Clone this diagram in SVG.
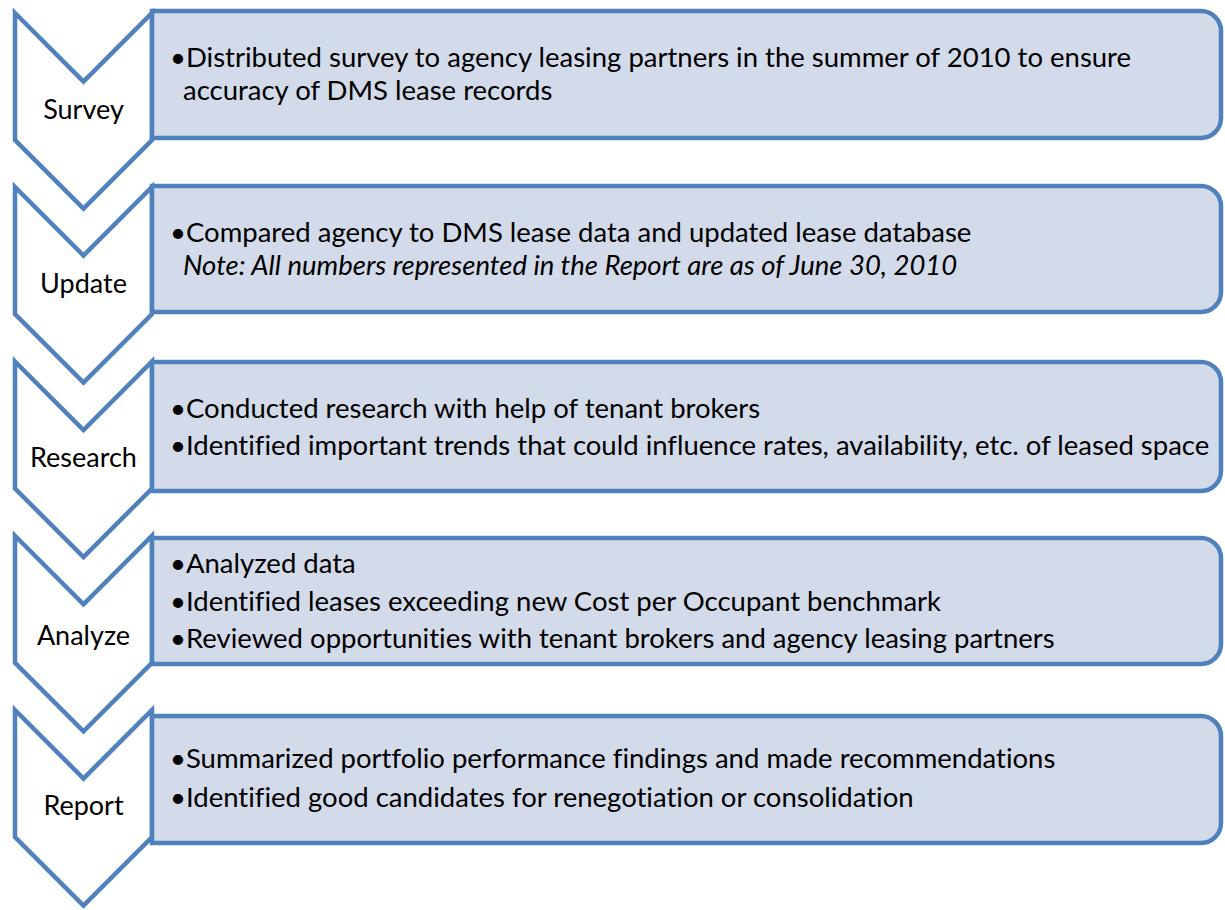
<svg xmlns="http://www.w3.org/2000/svg" width="1225" height="910" viewBox="0 0 1225 910">
<style>
.chev{fill:#FFFFFF;stroke:#4F81BD;stroke-width:4.5;stroke-linejoin:miter}
.box{fill:#D3DAE9;stroke:#4F81BD;stroke-width:4.5}
.lbl{font-family:Lato,"Liberation Sans",sans-serif;font-size:27px;fill:#000;text-anchor:middle;font-variant-ligatures:none}
.txt{font-family:Lato,"Liberation Sans",sans-serif;font-size:27.5px;fill:#000;font-variant-ligatures:none}
.it{font-style:italic}
</style>
<rect width="1225" height="910" fill="#FFFFFF"/>
<g id="survey">
<polygon class="chev" points="15,13 83.5,81.5 152,13 152,140 83.5,208.5 15,140"/>
<path class="box" d="M152,11 H1201 A20,20 0 0 1 1221,31 V118 A20,20 0 0 1 1201,138 H152 Z"/>
<text class="lbl" x="83.5" y="119">Survey</text>
<text class="txt" x="170" y="67">•Distributed survey to agency leasing partners in the summer of 2010 to ensure</text>
<text class="txt" x="183" y="100">accuracy of DMS lease records</text>
</g>
<g id="update">
<polygon class="chev" points="15,187 83.5,255.5 152,187 152,314 83.5,382.5 15,314"/>
<path class="box" d="M152,186 H1201 A20,20 0 0 1 1221,206 V292 A20,20 0 0 1 1201,312 H152 Z"/>
<text class="lbl" x="83.5" y="293">Update</text>
<text class="txt" x="170" y="242">•Compared agency to DMS lease data and updated lease database</text>
<text class="txt it" x="183" y="275">Note: All numbers represented in the Report are as of June 30, 2010</text>
</g>
<g id="research">
<polygon class="chev" points="15,361.5 83.5,430 152,361.5 152,488.5 83.5,557 15,488.5"/>
<path class="box" d="M152,362 H1201 A20,20 0 0 1 1221,382 V471 A20,20 0 0 1 1201,491 H152 Z"/>
<text class="lbl" x="83.5" y="467">Research</text>
<text class="txt" x="170" y="418">•Conducted research with help of tenant brokers</text>
<text class="txt" x="170" y="455">•Identified important trends that could influence rates, availability, etc. of leased space</text>
</g>
<g id="analyze">
<polygon class="chev" points="15,535.75 83.5,604.25 152,535.75 152,662.75 83.5,731.25 15,662.75"/>
<path class="box" d="M152,538 H1201 A20,20 0 0 1 1221,558 V644 A20,20 0 0 1 1201,664 H152 Z"/>
<text class="lbl" x="83.5" y="645">Analyze</text>
<text class="txt" x="170" y="573">•Analyzed data</text>
<text class="txt" x="170" y="611">•Identified leases exceeding new Cost per Occupant benchmark</text>
<text class="txt" x="170" y="648">•Reviewed opportunities with tenant brokers and agency leasing partners</text>
</g>
<g id="report">
<polygon class="chev" points="15,710 83.5,778.5 152,710 152,837 83.5,905.5 15,837"/>
<path class="box" d="M152,716 H1201 A20,20 0 0 1 1221,736 V823 A20,20 0 0 1 1201,843 H152 Z"/>
<text class="lbl" x="83.5" y="815">Report</text>
<text class="txt" x="170" y="768">•Summarized portfolio performance findings and made recommendations</text>
<text class="txt" x="170" y="807">•Identified good candidates for renegotiation or consolidation</text>
</g>
<g id="connectors"></g>
</svg>
